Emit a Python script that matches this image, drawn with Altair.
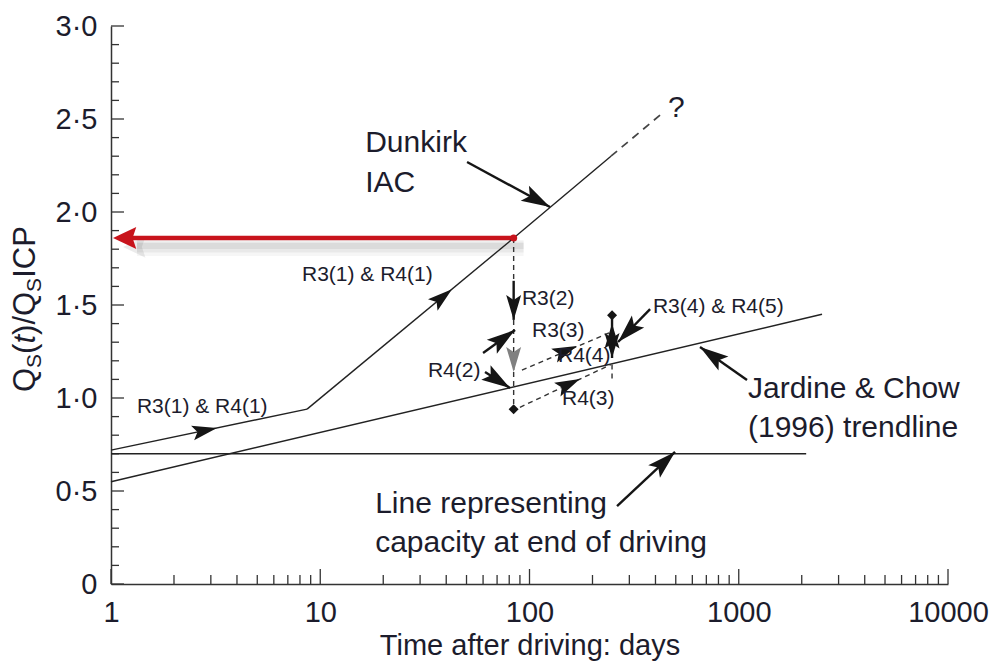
import math
import altair as alt
import pandas as pd

W, H = 837, 558
FONT = "Liberation Sans"
INK = "#1c1c2c"
LINE = "#222222"
RED = "#c8141c"

# ---------------- axis ticks ----------------
x_major_ticks = [1, 10, 100, 1000, 10000]
x_minor_ticks = [2, 3, 4, 5, 6, 7, 8, 9,
                 20, 30, 40, 50, 60, 70, 80, 90,
                 200, 300, 400, 500, 600, 700, 800, 900,
                 2000, 3000, 4000, 5000, 6000, 7000, 8000, 9000]
y_major_ticks = [0, 0.5, 1.0, 1.5, 2.0, 2.5, 3.0]
y_minor_ticks = [0.1, 0.2, 0.3, 0.4, 0.6, 0.7, 0.8, 0.9,
                 1.1, 1.2, 1.3, 1.4, 1.6, 1.7, 1.8, 1.9,
                 2.1, 2.2, 2.3, 2.4, 2.6, 2.7, 2.8, 2.9]

# ---------------- main lines ----------------
end_driving_days = [1, 2100]
end_driving_q = [0.70, 0.70]
jardine_days = [1, 2500]
jardine_q = [0.55, 1.45]
dunkirk_days = [1, 8.65, 84, 245]
dunkirk_q = [0.72, 0.94, 1.86, 2.30]
dunkirk_ext_days = [245, 430]
dunkirk_ext_q = [2.30, 2.53]

# ---------------- R3 / R4 test paths ----------------
drop_day = 84
drop_dashed_top = [1.86, 1.42, 1.14]
drop_dashed_bottom = [1.63, 1.14, 0.94]
r3_2_shaft_q = [1.63, 1.42]
r3_3_days = [92, 240]
r3_3_q = [1.15, 1.35]
r4_3_days = [90, 245]
r4_3_q = [0.95, 1.18]
r3_4_day = 248
r3_4_solid_q = [1.44, 1.215]
r3_4_dashed_q = [1.18, 1.10]
diamond_days = [84, 248]
diamond_q = [0.94, 1.445]

# red arrow (capacity read-off)
red_days = [1, 84]
red_q = [1.86, 1.86]

# ---------------- annotation arrows ----------------
ann_start_days = [50.3, 262, 1095, 377, 60, 61.3]
ann_start_q = [2.269, 0.419, 1.097, 1.478, 1.242, 1.140]
ann_end_days = [125.3, 496, 653, 265, 85.3, 80.7]
ann_end_q = [2.027, 0.710, 1.274, 1.301, 1.366, 1.054]

# arrowheads sitting on the data paths: position + direction segment
head_days = [3.21, 42.6, 84, 168.7, 174, 248, 248]
head_q = [0.839, 1.585, 1.42, 1.28, 1.102, 1.215, 1.40]
head_dir_from_days = [1, 8.65, 84, 92, 90, 248, 248]
head_dir_from_q = [0.72, 0.94, 1.63, 1.15, 0.95, 1.44, 1.215]
head_dir_to_days = [8.65, 84, 84, 240, 245, 248, 248]
head_dir_to_q = [0.94, 1.86, 1.42, 1.35, 1.18, 1.215, 1.44]
gray_head_days = [84]
gray_head_q = [1.14]

# ---------------- labels ----------------
big_label_text = ["Dunkirk", "IAC", "Line representing", "capacity at end of driving",
                  "Jardine & Chow", "(1996) trendline", "?"]
big_label_days = [16.4, 16.4, 18.3, 18.3, 1107, 1107, 459]
big_label_q = [2.323, 2.108, 0.382, 0.172, 1.0, 0.79, 2.51]

small_label_text = ["R3(1) & R4(1)", "R3(1) & R4(1)", "R3(2)", "R3(3)", "R4(2)",
                    "R4(4)", "R4(3)", "R3(4) & R4(5)"]
small_label_days = [8.18, 1.33, 92, 102.8, 32.7, 136.8, 143, 389]
small_label_q = [1.629, 0.919, 1.50, 1.328, 1.113, 1.194, 0.962, 1.457]

x_title = "Time after driving: days"
y_title_pieces = ["Q", "S", "(", "t", ")/", "Q", "S", "ICP"]

# ---------------- helpers ----------------
xs = alt.Scale(type="log", domain=[1, 10000], nice=False)
ys = alt.Scale(domain=[0, 3], nice=False, zero=False)

x_axis = alt.Axis(values=x_major_ticks, format="d", ticks=False, grid=False,
                  labelFontSize=29, labelFont=FONT, labelColor=INK, labelPadding=14,
                  labelFlush=False, labelOverlap=False,
                  domainColor="#333333", domainWidth=1.5,
                  title=x_title, titleFont=FONT, titleFontSize=29,
                  titleFontWeight="normal", titleColor=INK, titlePadding=4)
y_axis = alt.Axis(values=y_major_ticks,
                  labelExpr="datum.value == 0 ? '0' : replace(format(datum.value, '.1f'), '.', '\u00b7')",
                  ticks=False, grid=False, labelFontSize=29, labelFont=FONT,
                  labelColor=INK, labelPadding=14, labelFlush=False, labelOverlap=False,
                  domainColor="#333333", domainWidth=1.5, title=None)


def X(f="x"):
    return alt.X(f"{f}:Q", scale=xs, axis=x_axis)


def Y(f="y"):
    return alt.Y(f"{f}:Q", scale=ys, axis=y_axis)


def seg_df(x1, y1, x2, y2):
    return pd.DataFrame({"x": x1, "y": y1, "x2": x2, "y2": y2})


def rules(df, **mk):
    return alt.Chart(df).mark_rule(**mk).encode(
        x=X(), y=Y(), x2=alt.X2("x2:Q"), y2=alt.Y2("y2:Q"))


def head_angle(d1, q1, d2, q2):
    dx = (math.log10(d2) - math.log10(d1)) * W / 4
    dy = -(q2 - q1) * H / 3
    return (math.degrees(math.atan2(dy, dx)) + 90) % 360


ARROW = "M0,0L-0.6,2L0,1.6L0.6,2Z"
RED_HEAD = "M0,0L-0.9,1.9L0,1.6L0.9,1.9Z"

layers = []

# tick marks (inside)
layers.append(alt.Chart(pd.DataFrame({"y": y_minor_ticks})).mark_rule(
    color="#333333", strokeWidth=1.3).encode(y=Y(), x=alt.value(0), x2=alt.value(8)))
layers.append(alt.Chart(pd.DataFrame({"y": y_major_ticks})).mark_rule(
    color="#333333", strokeWidth=1.3).encode(y=Y(), x=alt.value(0), x2=alt.value(13)))
layers.append(alt.Chart(pd.DataFrame({"x": x_minor_ticks})).mark_rule(
    color="#333333", strokeWidth=1.3).encode(x=X(), y=alt.value(H), y2=alt.value(H - 9)))
layers.append(alt.Chart(pd.DataFrame({"x": x_major_ticks})).mark_rule(
    color="#333333", strokeWidth=1.3).encode(x=X(), y=alt.value(H), y2=alt.value(H - 15)))

# red read-off arrow with soft shadow
red_df = pd.DataFrame({"x": [red_days[0]], "x2": [red_days[1]], "y": [red_q[0]]})
for w, op, off in [(16, 0.035, 10), (11, 0.05, 9), (6, 0.06, 8)]:
    layers.append(alt.Chart(red_df).mark_rule(
        color="#000000", strokeWidth=w, opacity=op, yOffset=off, xOffset=26, x2Offset=10
    ).encode(x=X(), x2=alt.X2("x2:Q"), y=Y()))
layers.append(alt.Chart(pd.DataFrame({"x": [red_days[0]], "y": [red_q[0]], "a": [270]})).mark_point(
    shape=RED_HEAD, filled=True, size=560, color="#000000", opacity=0.08,
    xOffset=12, yOffset=9).encode(x=X(), y=Y(), angle=alt.Angle("a:Q", scale=None)))
layers.append(alt.Chart(red_df).mark_rule(
    color=RED, strokeWidth=4.5, xOffset=16).encode(x=X(), x2=alt.X2("x2:Q"), y=Y()))
layers.append(alt.Chart(pd.DataFrame({"x": [red_days[0]], "y": [red_q[0]], "a": [270]})).mark_point(
    shape=RED_HEAD, filled=True, size=600, color=RED, opacity=1,
    xOffset=2).encode(x=X(), y=Y(), angle=alt.Angle("a:Q", scale=None)))

# main solid lines
solid = seg_df(
    [end_driving_days[0], jardine_days[0]] + dunkirk_days[:-1],
    [end_driving_q[0], jardine_q[0]] + dunkirk_q[:-1],
    [end_driving_days[1], jardine_days[1]] + dunkirk_days[1:],
    [end_driving_q[1], jardine_q[1]] + dunkirk_q[1:])
layers.append(rules(solid, color=LINE, strokeWidth=1.4))

# Dunkirk extrapolation (dashed)
layers.append(rules(seg_df([dunkirk_ext_days[0]], [dunkirk_ext_q[0]],
                           [dunkirk_ext_days[1]], [dunkirk_ext_q[1]]),
                    color="#444444", strokeWidth=1.7, strokeDash=[8, 6]))

# dashed test paths
dashed = seg_df(
    [drop_day] * 3 + [r3_3_days[0], r4_3_days[0], r3_4_day],
    drop_dashed_top + [r3_3_q[0], r4_3_q[0], r3_4_dashed_q[0]],
    [drop_day] * 3 + [r3_3_days[1], r4_3_days[1], r3_4_day],
    drop_dashed_bottom + [r3_3_q[1], r4_3_q[1], r3_4_dashed_q[1]])
layers.append(rules(dashed, color="#333333", strokeWidth=1.4, strokeDash=[5, 4]))

# bold shafts: annotation arrows + R3(2) + R3(4)
shafts = seg_df(ann_start_days + [drop_day, r3_4_day],
                ann_start_q + [r3_2_shaft_q[0], r3_4_solid_q[0]],
                ann_end_days + [drop_day, r3_4_day],
                ann_end_q + [r3_2_shaft_q[1], r3_4_solid_q[1]])
layers.append(rules(shafts, color="#151515", strokeWidth=2.4))

# annotation arrowheads
ann_heads = pd.DataFrame({
    "x": ann_end_days, "y": ann_end_q,
    "a": [head_angle(a, b, c, d) for a, b, c, d in
          zip(ann_start_days, ann_start_q, ann_end_days, ann_end_q)]})
layers.append(alt.Chart(ann_heads).mark_point(
    shape=ARROW, filled=True, size=820, color="#151515", opacity=1).encode(
    x=X(), y=Y(), angle=alt.Angle("a:Q", scale=None)))

# arrowheads on the paths
line_heads = pd.DataFrame({
    "x": head_days, "y": head_q,
    "a": [head_angle(a, b, c, d) for a, b, c, d in
          zip(head_dir_from_days, head_dir_from_q, head_dir_to_days, head_dir_to_q)]})
layers.append(alt.Chart(line_heads).mark_point(
    shape=ARROW, filled=True, size=620, color="#151515", opacity=1).encode(
    x=X(), y=Y(), angle=alt.Angle("a:Q", scale=None)))
layers.append(alt.Chart(pd.DataFrame({"x": gray_head_days, "y": gray_head_q, "a": [180]})).mark_point(
    shape=ARROW, filled=True, size=620, color="#808080", opacity=1).encode(
    x=X(), y=Y(), angle=alt.Angle("a:Q", scale=None)))

# diamonds and red dot
layers.append(alt.Chart(pd.DataFrame({"x": diamond_days, "y": diamond_q})).mark_point(
    shape="diamond", filled=True, size=100, color="#151515", opacity=1).encode(x=X(), y=Y()))
layers.append(alt.Chart(pd.DataFrame({"x": [red_days[1]], "y": [red_q[1]]})).mark_point(
    shape="circle", filled=True, size=50, color=RED, opacity=1).encode(x=X(), y=Y()))

# labels
layers.append(alt.Chart(pd.DataFrame({"x": big_label_days, "y": big_label_q, "t": big_label_text}))
              .mark_text(align="left", baseline="alphabetic", font=FONT, fontSize=30, color=INK)
              .encode(x=X(), y=Y(), text="t:N"))
layers.append(alt.Chart(pd.DataFrame({"x": small_label_days, "y": small_label_q, "t": small_label_text}))
              .mark_text(align="left", baseline="alphabetic", font=FONT, fontSize=21, color=INK)
              .encode(x=X(), y=Y(), text="t:N"))

# rotated y-axis title built from pieces (subscripts, italic t)
em = {"Q": 0.778, "S": 0.667, "(": 0.333, "t": 0.278, ")": 0.333, "/": 0.278,
      "I": 0.278, "C": 0.722, "P": 0.667}
MAIN, SUB = 31, 21
ypos = 392 - 26
for k, piece in enumerate(y_title_pieces):
    is_sub = piece == "S"
    fs = SUB if is_sub else MAIN
    layers.append(alt.Chart(pd.DataFrame({"t": [piece]})).mark_text(
        angle=270, align="left", baseline="alphabetic", font=FONT, fontSize=fs,
        fontStyle="italic" if piece == "t" else "normal", color=INK).encode(
        x=alt.value(-70 if is_sub else -76), y=alt.value(ypos), text="t:N"))
    ypos -= sum(em[c] for c in piece) * fs

chart = alt.layer(*layers).properties(
    width=W, height=H,
    autosize=alt.AutoSizeParams(type="none"),
    padding={"left": 111, "top": 26, "right": 43, "bottom": 78},
).configure_view(stroke=None)

chart.save("out.html", embed_options={"renderer": "svg", "actions": False})
